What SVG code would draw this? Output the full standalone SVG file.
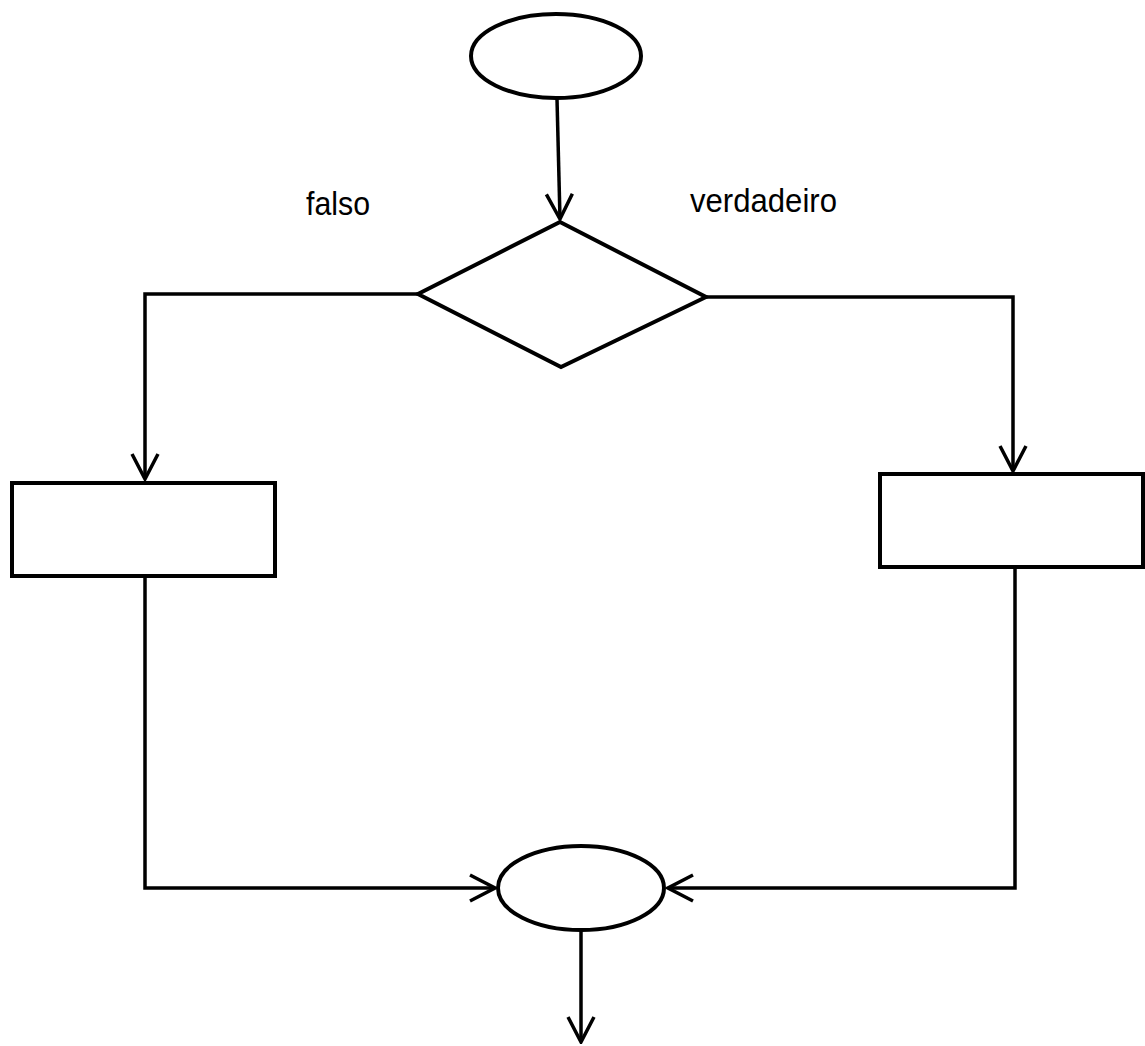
<svg xmlns="http://www.w3.org/2000/svg" width="1145" height="1046" viewBox="0 0 1145 1046">
<defs>
<marker id="arr" viewBox="0 0 30 32" refX="28" refY="16" markerWidth="30" markerHeight="32" markerUnits="userSpaceOnUse" orient="auto">
<path d="M3 3 L28 16 L3 29" fill="none" stroke="#000" stroke-width="3.5"/>
</marker>
<style>
.shape{fill:#fff;stroke:#000;stroke-width:4}
.conn{fill:none;stroke:#000;stroke-width:3.5;marker-end:url(#arr)}
.lbl{font-family:"Liberation Sans",Arial,sans-serif;font-size:33px;fill:#000}
</style>
</defs>
<rect width="1145" height="1046" fill="#fff"/>
<g id="connectors">
<path class="conn" d="M557 99 L560 219"/>
<path class="conn" d="M418 294 L145 294 L145 479"/>
<path class="conn" d="M706 297 L1013 297 L1013 471"/>
<path class="conn" d="M145 576 L145 888 L495 888"/>
<path class="conn" d="M1015 567 L1015 888 L668 888"/>
<path class="conn" d="M581 930 L581 1042"/>
</g>
<g id="start"><ellipse class="shape" cx="556" cy="56" rx="85" ry="42"/></g>
<g id="decision"><polygon class="shape" points="560,222 706,297 561,367 418,294"/></g>
<g id="false-box"><rect class="shape" x="12" y="483" width="263" height="93"/></g>
<g id="true-box"><rect class="shape" x="880" y="474" width="263" height="93"/></g>
<g id="end"><ellipse class="shape" cx="581" cy="888" rx="83" ry="42"/></g>
<g id="labels">
<text class="lbl" x="306" y="215" textLength="64" lengthAdjust="spacingAndGlyphs">falso</text>
<text class="lbl" x="690" y="212" textLength="147" lengthAdjust="spacingAndGlyphs">verdadeiro</text>
</g>
</svg>
